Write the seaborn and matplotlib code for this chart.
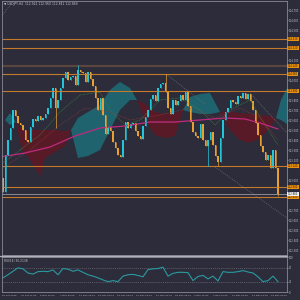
import numpy as np
import pandas as pd
import matplotlib
matplotlib.use("Agg")
import matplotlib.pyplot as plt
import matplotlib.transforms as mtransforms
import seaborn as sns

# ---------------- data ----------------
title_text = "\u25bc USDJPY,H4  112.922 112.960 112.841 112.860"
rsi_title = "RSI(14) 30.2138"

first_open = 113.02
closes = [112.88, 113.25, 113.40, 113.52, 113.70, 113.64, 113.57, 113.55, 113.50, 113.40,
          113.38, 113.53, 113.61, 113.59, 113.64, 113.60, 113.62, 113.66, 113.72, 113.82,
          113.92, 113.72, 113.80, 113.92, 114.02, 114.08, 114.00, 114.03, 114.04, 113.95,
          114.10, 114.08, 114.07, 113.98, 114.08, 114.01, 113.94, 113.82, 113.70, 113.82,
          113.65, 113.46, 113.53, 113.49, 113.38, 113.32, 113.25, 113.23, 113.40, 113.58,
          113.52, 113.56, 113.57, 113.49, 113.44, 113.41, 113.54, 113.63, 113.70, 113.81,
          113.85, 113.79, 113.92, 113.96, 113.97, 113.88, 113.72, 113.66, 113.80, 113.75,
          113.79, 113.85, 113.80, 113.88, 113.74, 113.58, 113.48, 113.44, 113.42, 113.56,
          113.40, 113.34, 113.40, 113.48, 113.35, 113.24, 113.18, 113.42, 113.60, 113.68,
          113.72, 113.80, 113.78, 113.76, 113.84, 113.82, 113.87, 113.81, 113.86, 113.79,
          113.70, 113.57, 113.45, 113.34, 113.28, 113.20, 113.25, 113.12, 113.30, 113.12,
          112.86]

spike_idx = [30, 65, 21, 82, 86, 110]
spike_val = [114.15, 114.06, 113.52, 113.14, 113.14, 112.84]

level_prices = [114.41, 114.32, 114.06, 113.89, 113.14, 112.93, 112.83]
zone_price = 114.14
current_price = 112.86

cloud_idx = [0.8, 2.8, 5.2, 7.6, 10.8, 14.0, 15.2, 16.8, 20.8, 24.8, 27.2, 30.0, 34.0, 38.8,
             42.8, 46.8, 50.8, 53.6, 56.8, 60.8, 64.8, 68.8, 72.0, 74.8, 78.8, 82.8, 86.8,
             90.8, 94.8, 98.8, 102.8, 106.8, 109.2, 111.2, 113.6]
span_a = [113.60, 113.67, 113.58, 113.30, 113.20, 113.08, 113.04, 113.22, 113.28, 113.34,
          113.50, 113.62, 113.68, 113.75, 113.90, 113.98, 113.92, 113.80, 113.60, 113.45,
          113.42, 113.44, 113.70, 113.83, 113.86, 113.87, 113.68, 113.50, 113.40, 113.37,
          113.42, 113.52, 113.62, 113.80, 113.92]
span_b = [113.60, 113.55, 113.58, 113.50, 113.50, 113.50, 113.50, 113.50, 113.50, 113.49,
          113.50, 113.22, 113.24, 113.30, 113.50, 113.70, 113.80, 113.80, 113.76, 113.68,
          113.66, 113.67, 113.70, 113.68, 113.66, 113.66, 113.68, 113.68, 113.67, 113.66,
          113.65, 113.64, 113.62, 113.60, 113.56]

ma_idx = [-1.2, 8.8, 18.8, 28.8, 38.8, 48.8, 58.8, 68.8, 78.8, 88.8, 96.8, 102.8, 110.0]
ma_val = [113.23, 113.27, 113.33, 113.44, 113.52, 113.54, 113.58, 113.58, 113.60, 113.62,
          113.61, 113.57, 113.51]

green_idx = [-1.2, 6.8, 14.8, 22.8, 30.8, 38.8, 42.8, 48.8, 54.8, 62.8, 70.8, 78.8, 84.8,
             90.8, 98.8, 104.8, 110.0]
green_val = [113.15, 113.30, 113.45, 113.68, 113.85, 113.88, 113.70, 113.55, 113.60, 113.80,
             113.82, 113.70, 113.55, 113.70, 113.80, 113.55, 113.35]
red_idx = [-1.2, 10.8, 22.8, 32.8, 42.8, 50.8, 62.8, 74.8, 84.8, 94.8, 102.8, 110.0]
red_val = [113.10, 113.30, 113.55, 113.72, 113.68, 113.60, 113.65, 113.72, 113.62, 113.72,
           113.62, 113.40]

trend_lines = [((-1.2, 114.62), (3.6, 114.77)),
               ((65.2, 114.06), (80.8, 113.76)),
               ((98.8, 113.87), (113.6, 113.47)),
               ((84.8, 113.13), (113.6, 112.62))]

rsi_vals = [41, 50, 60, 70, 67, 55, 52, 59, 60, 59, 64, 50, 68, 66, 60, 64, 57, 50, 46, 41,
            35, 30, 33, 30, 46, 50, 51, 48, 44, 65, 67, 68, 72, 46, 54, 57, 57, 56, 33, 45,
            48, 38, 46, 32, 59, 57, 57, 59, 62, 58, 55, 44, 30, 33, 46, 30]
rsi_idx = list(range(0, 2 * len(rsi_vals), 2))

date_labels = ["26 Oct 2018", "31 Oct 12:00", "5 Nov 04:00", "7 Nov 20:00", "12 Nov 12:00",
               "15 Nov 04:00", "19 Nov 20:00", "22 Nov 12:00", "27 Nov 04:00", "29 Nov 20:00",
               "4 Dec 12:00", "7 Dec 04:00", "11 Dec 20:00", "14 Dec 12:00", "19 Dec 04:00"]

# ---------------- style ----------------
BG = "#2c2c3a"
FG = "#c8c8d0"
GRID = "#8a8a96"
UP = "#22c6d8"
DOWN = "#e8a032"
LINE = "#c47a2a"

sns.set_theme(style="dark", rc={"axes.facecolor": BG, "figure.facecolor": BG})
plt.rcParams["font.family"] = ["DejaVu Sans"]

fig = plt.figure(figsize=(3, 3), dpi=100)
W = H = 300.0
ax = fig.add_axes([2 / W, 1 - 255 / H, 285 / W, 254 / H])
axr = fig.add_axes([2 / W, 1 - 292 / H, 285 / W, 35 / H])
for a in (ax, axr):
    a.set_facecolor(BG)
    for s in a.spines.values():
        s.set_color(GRID)
        s.set_linewidth(0.6)

xlim = (-0.4, 113.6)

# clouds
ca = np.array(span_a); cb = np.array(span_b)
ax.fill_between(cloud_idx, ca, cb, where=ca >= cb, interpolate=True,
                color="#1d6a74", alpha=0.9, linewidth=0)
ax.fill_between(cloud_idx, ca, cb, where=ca < cb, interpolate=True,
                color="#5e1824", alpha=0.9, linewidth=0)

# thin moving averages
sns.lineplot(x=green_idx, y=green_val, ax=ax, color="#3d8a3d", lw=0.5,
             linestyle=(0, (1, 1)), estimator=None, sort=False)
sns.lineplot(x=red_idx, y=red_val, ax=ax, color="#8a3a3a", lw=0.5,
             linestyle=(0, (1, 1)), estimator=None, sort=False)
sns.lineplot(x=ma_idx, y=ma_val, ax=ax, color="#c02a80", lw=0.9,
             estimator=None, sort=False)

# trend lines
for (p0, p1) in trend_lines:
    ax.plot([p0[0], p1[0]], [p0[1], p1[1]], color="#6a6a78", lw=0.5,
            linestyle=(0, (1.5, 1.5)))

# horizontal levels
for p in level_prices:
    ax.axhline(p, color=LINE, lw=0.8)
ax.axhline(zone_price, color="#5a463e", lw=1.6)
ax.axhline(current_price, color="#9a9aa6", lw=0.6)

# candles
o = np.array([first_open] + closes[:-1])
c = np.array(closes)
idx = np.arange(len(c))
cols = np.where(c >= o, UP, DOWN)
body_lo = np.minimum(o, c)
body_hi = np.maximum(o, c)
hi = body_hi.copy(); lo = body_lo.copy()
for k, v in zip(spike_idx, spike_val):
    hi[k] = max(hi[k], v)
    lo[k] = min(lo[k], v)
ax.vlines(idx, lo, hi, colors=cols, lw=0.5)
ax.bar(idx, np.maximum(body_hi - body_lo, 0.008), bottom=body_lo, width=0.65,
       color=cols, linewidth=0)

ax.set_xlim(*xlim)
ax.set_ylim(112.25, 114.79)
ax.set_xticks([])
ax.yaxis.tick_right()
all_marked = level_prices + [zone_price, current_price]
yt = [v for v in np.round(np.arange(112.30, 114.79, 0.10), 2)
      if min(abs(v - m) for m in all_marked) > 0.045]
ax.set_yticks(yt)
ax.set_yticklabels([f"{v:.3f}" for v in yt])
ax.tick_params(axis="y", colors=FG, labelsize=1.8, length=0.8, width=0.4, pad=0.3)
ax.set_xlabel(""); ax.set_ylabel("")

tr = mtransforms.blended_transform_factory(ax.transAxes, ax.transData)
for p in level_prices + [zone_price]:
    ax.text(1.003, p, f"{p:.3f}", transform=tr, fontsize=1.8, va="center", ha="left",
            color="#1a1a1a", clip_on=False,
            bbox=dict(facecolor="#e8900f", edgecolor="none", pad=0.35))
ax.text(1.003, current_price, f"{current_price:.3f}", transform=tr, fontsize=1.8,
        va="center", ha="left", color="#1a1a1a", clip_on=False,
        bbox=dict(facecolor="#f0f0f0", edgecolor="none", pad=0.35))

fig.text(4 / W, 1 - 4 / H, title_text, fontsize=2.2, color=FG, va="center", ha="left")

# RSI panel
axr.axhline(70, color="#70707c", lw=0.5, linestyle=(0, (1.5, 1.5)))
axr.axhline(30, color="#70707c", lw=0.5, linestyle=(0, (1.5, 1.5)))
sns.lineplot(x=rsi_idx, y=rsi_vals, ax=axr, color="#2a9aa0", lw=0.8,
             estimator=None, sort=False)
axr.set_xlim(*xlim)
axr.set_ylim(1.4, 101.4)
axr.yaxis.tick_right()
axr.set_yticks([0, 30, 70, 100])
axr.set_yticklabels(["0", "30", "70", "100"])
axr.tick_params(axis="y", colors=FG, labelsize=1.8, length=0.8, width=0.4, pad=0.3)
axr.text(0.006, 0.93, rsi_title, transform=axr.transAxes, fontsize=2.1, color=FG,
         va="top", ha="left")
tick_step = 7.68
date_pos = [-0.4 + i * tick_step for i in range(len(date_labels))]
axr.set_xticks(date_pos)
axr.set_xticklabels(date_labels, ha="left")
axr.tick_params(axis="x", colors=FG, labelsize=1.7, length=2.5, width=0.4, pad=0.6,
                direction="inout")
axr.set_xlabel(""); axr.set_ylabel("")

# separator between panels
fig.add_artist(plt.Line2D([0, 287 / W], [1 - 256 / H, 1 - 256 / H], color="#b0b0ba",
                          lw=1.0, transform=fig.transFigure))

fig.savefig("out.png", dpi=100, facecolor=BG)
